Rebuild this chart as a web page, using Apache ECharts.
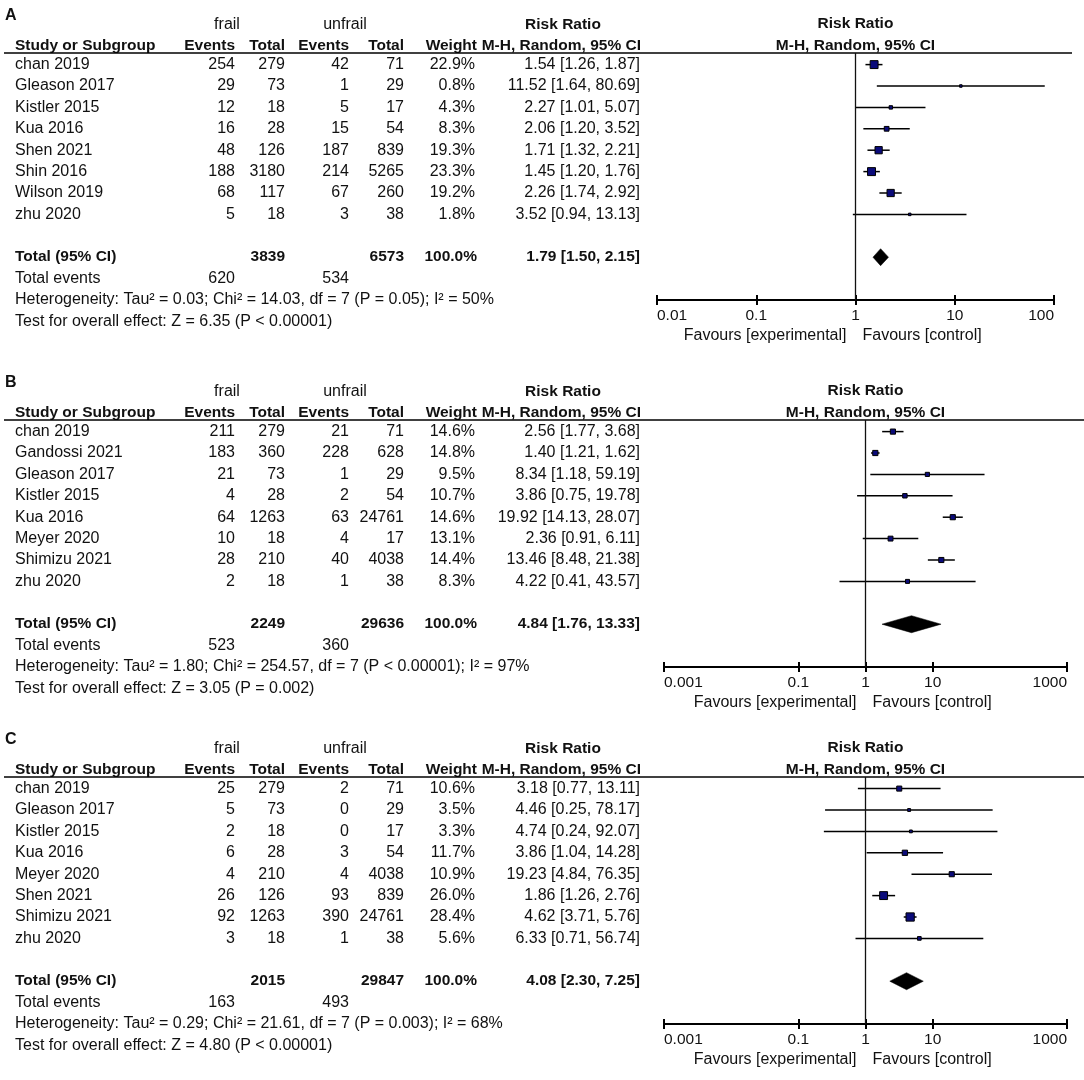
<!DOCTYPE html>
<html><head><meta charset="utf-8">
<script src="https://cdn.jsdelivr.net/npm/echarts@6/dist/echarts.min.js"></script>
<style>html,body{margin:0;padding:0;background:#fff}#c{width:1084px;height:1080px}</style>
</head><body><div id="c"></div>
<script>
// ---------- Panel A ----------
const studiesA = ['chan 2019','Gleason 2017','Kistler 2015','Kua 2016','Shen 2021','Shin 2016','Wilson 2019','zhu 2020'];
const frailEventsA = [254, 29, 12, 16, 48, 188, 68, 5];
const frailTotalA = [279, 73, 18, 28, 126, 3180, 117, 18];
const unfrailEventsA = [42, 1, 5, 15, 187, 214, 67, 3];
const unfrailTotalA = [71, 29, 17, 54, 839, 5265, 260, 38];
const weightA = [22.9, 0.8, 4.3, 8.3, 19.3, 23.3, 19.2, 1.8];
const rrA = [1.54, 11.52, 2.27, 2.06, 1.71, 1.45, 2.26, 3.52];
const lowerA = [1.26, 1.64, 1.01, 1.20, 1.32, 1.20, 1.74, 0.94];
const upperA = [1.87, 80.69, 5.07, 3.52, 2.21, 1.76, 2.92, 13.13];
const totalA = [3839, 6573, 100.0];
const pooledA = [1.79, 1.50, 2.15];
const totalEventsA = [620, 534];
const hetA = 'Heterogeneity: Tau\u00b2 = 0.03; Chi\u00b2 = 14.03, df = 7 (P = 0.05); I\u00b2 = 50%';
const testA = 'Test for overall effect: Z = 6.35 (P < 0.00001)';
const ticksA = [0.01, 0.1, 1, 10, 100];
const tickLabelsA = ['0.01', '0.1', '1', '10', '100'];

// ---------- Panel B ----------
const studiesB = ['chan 2019','Gandossi 2021','Gleason 2017','Kistler 2015','Kua 2016','Meyer 2020','Shimizu 2021','zhu 2020'];
const frailEventsB = [211, 183, 21, 4, 64, 10, 28, 2];
const frailTotalB = [279, 360, 73, 28, 1263, 18, 210, 18];
const unfrailEventsB = [21, 228, 1, 2, 63, 4, 40, 1];
const unfrailTotalB = [71, 628, 29, 54, 24761, 17, 4038, 38];
const weightB = [14.6, 14.8, 9.5, 10.7, 14.6, 13.1, 14.4, 8.3];
const rrB = [2.56, 1.40, 8.34, 3.86, 19.92, 2.36, 13.46, 4.22];
const lowerB = [1.77, 1.21, 1.18, 0.75, 14.13, 0.91, 8.48, 0.41];
const upperB = [3.68, 1.62, 59.19, 19.78, 28.07, 6.11, 21.38, 43.57];
const totalB = [2249, 29636, 100.0];
const pooledB = [4.84, 1.76, 13.33];
const totalEventsB = [523, 360];
const hetB = 'Heterogeneity: Tau\u00b2 = 1.80; Chi\u00b2 = 254.57, df = 7 (P < 0.00001); I\u00b2 = 97%';
const testB = 'Test for overall effect: Z = 3.05 (P = 0.002)';
const ticksB = [0.001, 0.1, 1, 10, 1000];
const tickLabelsB = ['0.001', '0.1', '1', '10', '1000'];

// ---------- Panel C ----------
const studiesC = ['chan 2019','Gleason 2017','Kistler 2015','Kua 2016','Meyer 2020','Shen 2021','Shimizu 2021','zhu 2020'];
const frailEventsC = [25, 5, 2, 6, 4, 26, 92, 3];
const frailTotalC = [279, 73, 18, 28, 210, 126, 1263, 18];
const unfrailEventsC = [2, 0, 0, 3, 4, 93, 390, 1];
const unfrailTotalC = [71, 29, 17, 54, 4038, 839, 24761, 38];
const weightC = [10.6, 3.5, 3.3, 11.7, 10.9, 26.0, 28.4, 5.6];
const rrC = [3.18, 4.46, 4.74, 3.86, 19.23, 1.86, 4.62, 6.33];
const lowerC = [0.77, 0.25, 0.24, 1.04, 4.84, 1.26, 3.71, 0.71];
const upperC = [13.11, 78.17, 92.07, 14.28, 76.35, 2.76, 5.76, 56.74];
const totalC = [2015, 29847, 100.0];
const pooledC = [4.08, 2.30, 7.25];
const totalEventsC = [163, 493];
const hetC = 'Heterogeneity: Tau\u00b2 = 0.29; Chi\u00b2 = 21.61, df = 7 (P = 0.003); I\u00b2 = 68%';
const testC = 'Test for overall effect: Z = 4.80 (P < 0.00001)';
const ticksC = [0.001, 0.1, 1, 10, 1000];
const tickLabelsC = ['0.001', '0.1', '1', '10', '1000'];

// ---------- layout / style (not data) ----------
const FONT = '"Liberation Sans", Arial, Helvetica, sans-serif';
const FS = 16;      // regular text
const FSB = 15.5;   // bold text
const INK = '#111';
const ROW0 = 64.6, ROWH = 21.4, LINE_Y = 53, AXIS_Y = 300;
const YMIN = -(ROW0 - LINE_Y) / ROWH;
const YMAX = YMIN + (AXIS_Y - LINE_Y) / ROWH;
const COL = { name: 15, fe: 235, ft: 285, ue: 349, ut: 404, w: 475, rr: 640 };

const panels = [
  { label: 'A', off: 0, plotL: 657, plotR: 1054, lineR: 1072, k: 1.65, minS: 2.5,
    studies: studiesA, fe: frailEventsA, ft: frailTotalA, ue: unfrailEventsA, ut: unfrailTotalA,
    w: weightA, rr: rrA, lo: lowerA, hi: upperA, tot: totalA, pooled: pooledA, tev: totalEventsA,
    het: hetA, test: testA, ticks: ticksA, tickLabels: tickLabelsA },
  { label: 'B', off: 367, plotL: 664, plotR: 1067, lineR: 1084, k: 1.35, minS: 4,
    studies: studiesB, fe: frailEventsB, ft: frailTotalB, ue: unfrailEventsB, ut: unfrailTotalB,
    w: weightB, rr: rrB, lo: lowerB, hi: upperB, tot: totalB, pooled: pooledB, tev: totalEventsB,
    het: hetB, test: testB, ticks: ticksB, tickLabels: tickLabelsB },
  { label: 'C', off: 724, plotL: 664, plotR: 1067, lineR: 1084, k: 1.55, minS: 2.5,
    studies: studiesC, fe: frailEventsC, ft: frailTotalC, ue: unfrailEventsC, ut: unfrailTotalC,
    w: weightC, rr: rrC, lo: lowerC, hi: upperC, tot: totalC, pooled: pooledC, tev: totalEventsC,
    het: hetC, test: testC, ticks: ticksC, tickLabels: tickLabelsC }
];

const chart = echarts.init(document.getElementById('c'), null, { renderer: 'canvas' });

const grid = [], xAxis = [], yAxis = [], series = [];
panels.forEach((p, i) => {
  grid.push({ left: p.plotL, top: LINE_Y + p.off, width: p.plotR - p.plotL, height: AXIS_Y - LINE_Y,
    containLabel: false, outerBoundsMode: 'none', show: false });
  const fmt = (v) => {
    let best = 0, bd = Infinity;
    p.ticks.forEach((t, j) => { const d = Math.abs(Math.log10(v) - Math.log10(t)); if (d < bd) { bd = d; best = j; } });
    return p.tickLabels[best];
  };
  const base = { type: 'log', logBase: 10, gridIndex: i, position: 'bottom',
    min: p.ticks[0], max: p.ticks[p.ticks.length - 1], splitLine: { show: false }, minorTick: { show: false } };
  xAxis.push(Object.assign({}, base, {
    axisLine: { show: true, onZero: false, lineStyle: { color: '#000', width: 2 } },
    axisTick: { show: true, inside: false, length: 5, lineStyle: { color: '#000', width: 2 }, customValues: p.ticks },
    axisLabel: { show: true, customValues: p.ticks, formatter: fmt, margin: 8, color: INK,
      fontFamily: FONT, fontSize: 15.5, alignMinLabel: 'left', alignMaxLabel: 'right',
      showMinLabel: true, showMaxLabel: true, hideOverlap: false }
  }));
  xAxis.push(Object.assign({}, base, {
    axisLine: { show: false, onZero: false },
    axisTick: { show: true, inside: true, length: 5, lineStyle: { color: '#000', width: 2 }, customValues: p.ticks },
    axisLabel: { show: false }
  }));
  yAxis.push({ type: 'value', gridIndex: i, inverse: true, min: YMIN, max: YMAX, show: false,
    axisLine: { show: false }, splitLine: { show: false } });

  const studyData = p.studies.map((s, j) => [p.rr[j], p.lo[j], p.hi[j], j, p.w[j]]);
  series.push({
    type: 'custom', xAxisIndex: 2 * i, yAxisIndex: i, silent: true, clip: false,
    encode: { x: [0, 1, 2], y: 3 },
    data: studyData,
    renderItem: (params, api) => {
      const row = api.value(3);
      const c = api.coord([api.value(0), row]);
      const l = api.coord([api.value(1), row]);
      const h = api.coord([api.value(2), row]);
      const s = Math.max(p.minS, p.k * Math.sqrt(api.value(4)));
      return { type: 'group', children: [
        { type: 'line', shape: { x1: l[0], y1: c[1], x2: h[0], y2: c[1] },
          style: { stroke: '#000', lineWidth: 1.5 } },
        { type: 'rect', shape: { x: c[0] - s / 2, y: c[1] - s / 2, width: s, height: s },
          style: { fill: '#0b0b7a', stroke: '#000', lineWidth: 1 } }
      ] };
    },
    markLine: { silent: true, symbol: 'none', label: { show: false },
      lineStyle: { color: '#111', width: 1.3, type: 'solid' }, data: [{ xAxis: 1 }] }
  });
  series.push({
    type: 'custom', xAxisIndex: 2 * i, yAxisIndex: i, silent: true, clip: false,
    encode: { x: [0, 1, 2], y: 3 },
    data: [[p.pooled[0], p.pooled[1], p.pooled[2], 9]],
    renderItem: (params, api) => {
      const row = api.value(3);
      const c = api.coord([api.value(0), row]);
      const l = api.coord([api.value(1), row]);
      const h = api.coord([api.value(2), row]);
      const hh = 8.5;
      return { type: 'polygon', shape: { points: [[l[0], c[1]], [c[0], c[1] - hh], [h[0], c[1]], [c[0], c[1] + hh]] },
        style: { fill: '#000', stroke: '#000', lineWidth: 0.5 } };
    }
  });
});

chart.setOption({ animation: false, backgroundColor: '#fff', grid, xAxis, yAxis, series });

// ---------- table text ----------
function txt(x, y, s, align, bold, size) {
  const font = (bold ? 'bold ' : '') + (size || (bold ? FSB : FS)) + 'px ' + FONT;
  return { type: 'text', x: x, y: y, silent: true,
    style: { text: String(s), fill: INK, font: font, align: align || 'left', verticalAlign: 'middle',
      textAlign: align || 'left', textVerticalAlign: 'middle' } };
}
function hline(x1, x2, y, w) {
  return { type: 'line', silent: true, shape: { x1: x1, y1: y, x2: x2, y2: y }, style: { stroke: '#000', lineWidth: w || 1.5 } };
}
const els = [];
panels.forEach((p, i) => {
  const o = p.off;
  const ry = (r) => o + ROW0 + r * ROWH;
  els.push(txt(5, o + 16, p.label, 'left', true, 16));
  els.push(txt(227, o + 25, 'frail', 'center', false));
  els.push(txt(345, o + 25, 'unfrail', 'center', false));
  els.push(txt(563, o + 25, 'Risk Ratio', 'center', true));
  const pc = (p.plotL + p.plotR) / 2;
  els.push(txt(pc, o + 24, 'Risk Ratio', 'center', true));
  els.push(txt(COL.name, o + 46, 'Study or Subgroup', 'left', true));
  els.push(txt(COL.fe, o + 46, 'Events', 'right', true));
  els.push(txt(COL.ft, o + 46, 'Total', 'right', true));
  els.push(txt(COL.ue, o + 46, 'Events', 'right', true));
  els.push(txt(COL.ut, o + 46, 'Total', 'right', true));
  els.push(txt(COL.w + 2, o + 46, 'Weight', 'right', true));
  els.push(txt(COL.rr + 1, o + 46, 'M-H, Random, 95% CI', 'right', true));
  els.push(txt(pc, o + 46, 'M-H, Random, 95% CI', 'center', true));
  els.push(hline(4, p.lineR, o + LINE_Y, 1.6));
  p.studies.forEach((s, j) => {
    const y = ry(j);
    els.push(txt(COL.name, y, s, 'left'));
    els.push(txt(COL.fe, y, p.fe[j], 'right'));
    els.push(txt(COL.ft, y, p.ft[j], 'right'));
    els.push(txt(COL.ue, y, p.ue[j], 'right'));
    els.push(txt(COL.ut, y, p.ut[j], 'right'));
    els.push(txt(COL.w, y, p.w[j].toFixed(1) + '%', 'right'));
    els.push(txt(COL.rr, y, p.rr[j].toFixed(2) + ' [' + p.lo[j].toFixed(2) + ', ' + p.hi[j].toFixed(2) + ']', 'right'));
  });
  const yt = ry(9);
  els.push(txt(COL.name, yt, 'Total (95% CI)', 'left', true));
  els.push(txt(COL.ft, yt, p.tot[0], 'right', true));
  els.push(txt(COL.ut, yt, p.tot[1], 'right', true));
  els.push(txt(COL.w + 2, yt, p.tot[2].toFixed(1) + '%', 'right', true));
  els.push(txt(COL.rr, yt, p.pooled[0].toFixed(2) + ' [' + p.pooled[1].toFixed(2) + ', ' + p.pooled[2].toFixed(2) + ']', 'right', true));
  els.push(txt(COL.name, ry(10), 'Total events', 'left'));
  els.push(txt(COL.fe, ry(10), p.tev[0], 'right'));
  els.push(txt(COL.ue, ry(10), p.tev[1], 'right'));
  els.push(txt(COL.name, ry(11), p.het, 'left'));
  els.push(txt(COL.name, ry(12), p.test, 'left'));
  const x1 = chart.convertToPixel({ xAxisIndex: 2 * i }, 1);
  els.push(txt(x1 - 9, o + 336, 'Favours [experimental]', 'right', false, 16));
  els.push(txt(x1 + 7, o + 336, 'Favours [control]', 'left', false, 16));
});
chart.setOption({ graphic: { elements: els } });
</script>
</body></html>
